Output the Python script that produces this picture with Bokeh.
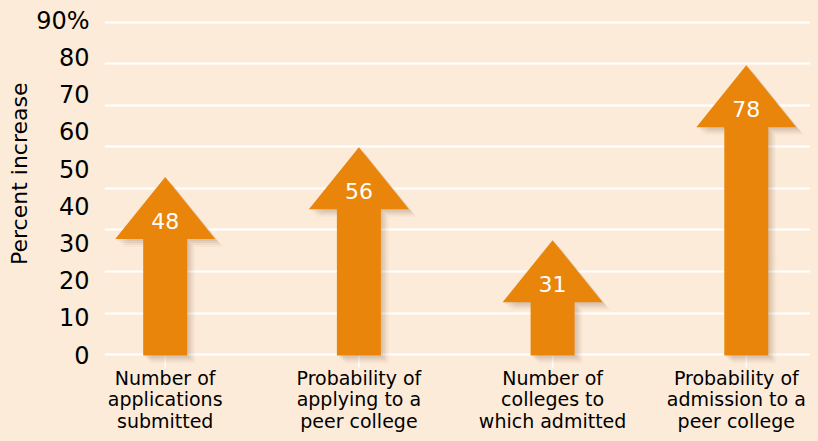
from bokeh.plotting import figure
from bokeh.models import FixedTicker, Range1d, ColumnDataSource, Title
from bokeh.embed import file_html
from bokeh.resources import INLINE
from bokeh.core.properties import value

# ---- data ----
categories = [
    "Number of\napplications\nsubmitted",
    "Probability of\napplying to a\npeer college",
    "Number of\ncolleges to\nwhich admitted",
    "Probability of\nadmission to a\npeer college",
]
increases = [48, 56, 31, 78]
y_ticks = [0, 10, 20, 30, 40, 50, 60, 70, 80, 90]
y_tick_labels = {90: "90%"}
y_title = "Percent increase"

# ---- style ----
BG = "#FDEBD9"
ORANGE = "#E8850A"
FONT = "DejaVu Sans"

W, H = 810, 433
LEFT, TOP = 104, 5
ZERO_PX = 355                         # pixel row of the value 0
PX_PER_X = 193.7
PX_PER_Y = 3.72
X_FIRST = 164.7                       # pixel centre of the first category


def py(px):
    """pixel row -> data value"""
    return (ZERO_PX - px) / PX_PER_Y


p = figure(width=W, height=H, output_backend="svg", toolbar_location=None,
           x_range=Range1d(1 - (X_FIRST - LEFT) / PX_PER_X,
                           1 + (W - X_FIRST) / PX_PER_X),
           y_range=Range1d(py(H), py(TOP)),
           min_border_left=LEFT, min_border_right=0, min_border_top=TOP,
           min_border_bottom=0)
p.background_fill_color = BG
p.border_fill_color = BG
p.outline_line_color = None
p.xaxis.visible = False

xs = list(range(1, len(increases) + 1))
hw = 22 / PX_PER_X        # shaft half width
hh = 50 / PX_PER_X        # head half width
hl = 62 / PX_PER_Y        # head length


def arrow(x, v, dx=0.0, dy=0.0):
    base = v - hl
    ax = [x - hw, x - hw, x - hh, x, x + hh, x + hw, x + hw]
    ay = [0, base, base, v, base, base, 0]
    return [a + dx for a in ax], [b + dy for b in ay]

# grid: white lines independent of the labels
p.xgrid.grid_line_color = None
p.ygrid.ticker = FixedTicker(ticks=[0.2 + k * 11.18 for k in range(9)])
p.ygrid.grid_line_color = "white"
p.ygrid.grid_line_width = 2

# white tick marks under each category
p.segment(x0=xs, y0=[0] * len(xs), x1=xs, y1=[py(ZERO_PX + 12)] * len(xs),
          line_color="white", line_width=1.5)

# soft shadows
for k, a in [(8, 0.04), (6, 0.06), (4, 0.08), (2, 0.08)]:
    sx, sy = [], []
    for x, v in zip(xs, increases):
        ax, ay = arrow(x, v, k / PX_PER_X, -k / PX_PER_Y)
        sx.append(ax)
        sy.append(ay)
    p.patches(sx, sy, fill_color="#6b4a2a", fill_alpha=a, line_color=None)

axs, ays = [], []
for x, v in zip(xs, increases):
    ax, ay = arrow(x, v)
    axs.append(ax)
    ays.append(ay)
p.patches(axs, ays, fill_color=ORANGE, line_color=None)

src = ColumnDataSource(dict(x=xs, y=[v - 44 / PX_PER_Y for v in increases],
                            t=[str(v) for v in increases]))
p.text("x", "y", text="t", source=src, text_color="white",
       text_font=value(FONT), text_font_size="22px",
       text_align="center", text_baseline="alphabetic")

# category labels, three lines each, below the zero line
line_rows = [377, 398.5, 420]
x_shift = [0, 0, 0, -10]              # keep the last label inside the canvas
for i, row in enumerate(line_rows):
    lines = [c.split("\n")[i] for c in categories]
    lsrc = ColumnDataSource(dict(x=xs, y=[py(row)] * len(xs), t=lines,
                                 dx=x_shift))
    p.text("x", "y", text="t", x_offset="dx", source=lsrc,
           text_font=value(FONT), text_font_size="19px",
           text_color="black", text_align="center",
           text_baseline="alphabetic")

# y axis
p.yaxis.ticker = FixedTicker(ticks=y_ticks)
p.yaxis.major_label_overrides = y_tick_labels
p.yaxis.axis_line_color = None
p.yaxis.major_tick_line_color = None
p.yaxis.minor_tick_line_color = None
p.yaxis.major_label_standoff = 9
p.yaxis.major_label_text_font = FONT
p.yaxis.major_label_text_font_size = "24px"
p.yaxis.major_label_text_color = "black"

# y title, placed along the upper part of the axis as in the original
p.add_layout(Title(text=y_title, align="right", offset=77, standoff=4,
                   text_font=FONT, text_font_size="22px",
                   text_font_style="normal", text_color="black"), "left")

html = file_html(p, INLINE)
html = html.replace("</head>",
                    "<style>html, body { background: %s; }</style></head>" % BG)
open("out.html", "w").write(html)
